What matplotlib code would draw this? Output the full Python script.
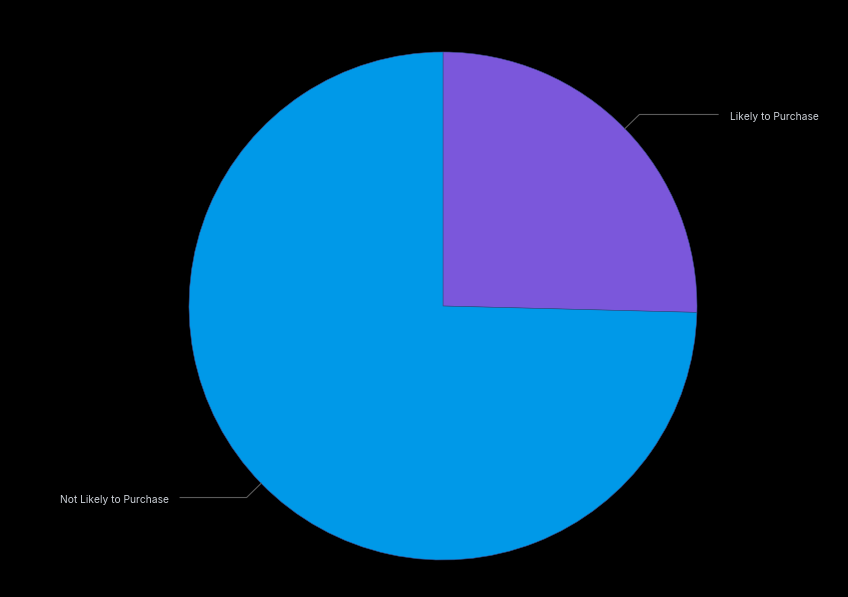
import numpy as np
import matplotlib
matplotlib.use("Agg")
import matplotlib.pyplot as plt

labels = ["Likely to Purchase", "Not Likely to Purchase"]
shares = [25.4, 74.6]
colors = ["#7b57db", "#0099e8"]

plt.rcParams['font.family'] = ['Inter', 'DejaVu Sans']

fig = plt.figure(figsize=(8.48, 5.97), dpi=100, facecolor="black")
r_px = 254
cx, cy = 443, 597 - 306
ax = fig.add_axes([(cx - r_px) / 848, (cy - r_px) / 597, 2 * r_px / 848, 2 * r_px / 597])
ax.set_facecolor("black")

wedges, _ = ax.pie(shares, colors=colors, startangle=90, counterclock=False,
                   radius=1, wedgeprops=dict(linewidth=0.4, edgecolor="#3a4a8a"))
ax.set_xlim(-1, 1)
ax.set_ylim(-1, 1)
ax.set_aspect("equal")
ax.axis("off")

for w, lab in zip(wedges, labels):
    mid = np.deg2rad((w.theta1 + w.theta2) / 2)
    x0, y0 = np.cos(mid), np.sin(mid)
    x1, y1 = 1.08 * x0, 1.08 * y0
    side = 1 if x0 > 0 else -1
    x2 = side * (1.083 if side > 0 else 1.035)
    ax.plot([x0, x1, x2], [y0, y1, y1], color="#5a5a5a", lw=0.8, clip_on=False)
    ax.text(x2 + side * 0.045, y1 - 0.008, lab, color="#cdd2d9", fontsize=7.4,
            ha="left" if side > 0 else "right", va="center")

fig.savefig("out.png", dpi=100, facecolor="black")
